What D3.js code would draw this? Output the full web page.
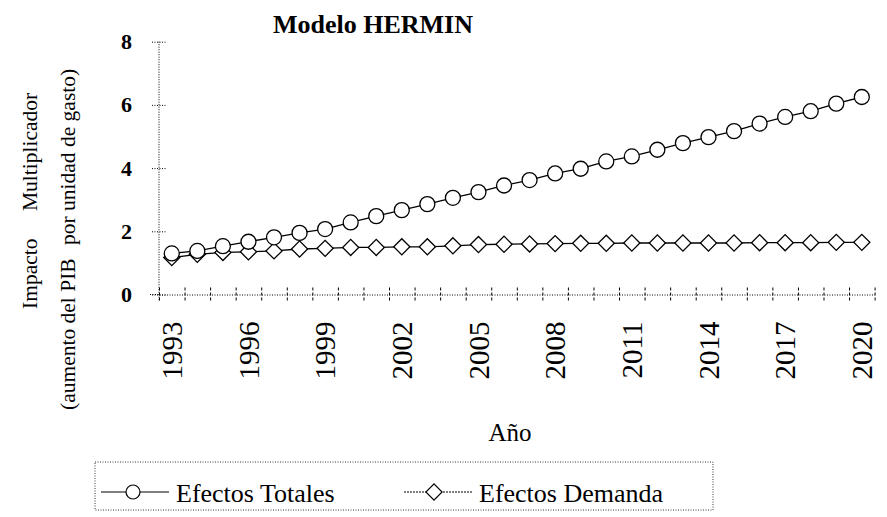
<!DOCTYPE html>
<html>
<head>
<meta charset="utf-8">
<script src="https://cdn.jsdelivr.net/npm/d3@7"></script>
<style>
  body { margin: 0; background: #fff; }
  text { font-family: "Liberation Serif", "Times New Roman", serif; fill: #000; }
</style>
</head>
<body>
<script>
// years on the x axis
var years = [1993, 1994, 1995, 1996, 1997, 1998, 1999, 2000, 2001, 2002,
             2003, 2004, 2005, 2006, 2007, 2008, 2009, 2010, 2011, 2012,
             2013, 2014, 2015, 2016, 2017, 2018, 2019, 2020];
// labelled years
var yearLabels = [1993, 1996, 1999, 2002, 2005, 2008, 2011, 2014, 2017, 2020];
// series
var efectosTotales = [1.30, 1.38, 1.53, 1.67, 1.81, 1.95, 2.07, 2.28, 2.48, 2.67,
                      2.86, 3.06, 3.24, 3.45, 3.62, 3.83, 3.98, 4.21, 4.37, 4.58,
                      4.79, 4.98, 5.17, 5.41, 5.62, 5.80, 6.04, 6.25];
var efectosDemanda = [1.17, 1.27, 1.33, 1.35, 1.38, 1.44, 1.46, 1.49, 1.49, 1.51,
                      1.51, 1.54, 1.58, 1.59, 1.60, 1.61, 1.62, 1.62, 1.63, 1.63,
                      1.63, 1.63, 1.63, 1.64, 1.64, 1.64, 1.65, 1.65];
var yTicks = [0, 2, 4, 6, 8];

var width = 887, height = 517;
var plotLeft = 159, plotRight = 874.6, plotTop = 41.7, plotBottom = 294.5;

var svg = d3.select("body").append("svg")
    .attr("width", width)
    .attr("height", height);

var x = d3.scaleBand().domain(years).range([plotLeft, plotRight]).padding(0);
var xEdge = d3.scaleLinear().domain([0, years.length]).range([plotLeft, plotRight]);
var y = d3.scaleLinear().domain([0, 8]).range([plotBottom, plotTop]);

// title
svg.append("text")
    .attr("x", 373).attr("y", 33)
    .attr("text-anchor", "middle")
    .attr("font-size", 26).attr("font-weight", "bold")
    .text("Modelo HERMIN");

// y axis
var yAxis = svg.append("g")
    .attr("transform", "translate(" + plotLeft + ",0)")
    .call(d3.axisLeft(y).tickValues(yTicks).tickSize(0).tickPadding(27));
yAxis.select(".domain").remove();
yAxis.selectAll("text")
    .attr("font-size", 22).attr("font-weight", "bold")
    .attr("font-family", "Liberation Serif");
yAxis.selectAll(".tick").append("line")
    .attr("x1", -7).attr("x2", 8)
    .attr("stroke", "#000").attr("stroke-dasharray", "1,1.5");
yAxis.append("line")
    .attr("x1", 0).attr("x2", 0)
    .attr("y1", plotTop).attr("y2", plotBottom + 7)
    .attr("stroke", "#000").attr("stroke-dasharray", "1,1.5");

// x axis line and the tick marks between the years
var xAxis = svg.append("g")
    .attr("transform", "translate(0," + plotBottom + ")")
    .call(d3.axisBottom(xEdge).tickValues(d3.range(0, years.length + 1)).tickFormat("").tickSize(0));
xAxis.select(".domain")
    .attr("stroke", "#000").attr("stroke-dasharray", "1,1.5");
xAxis.selectAll(".tick line")
    .attr("y1", -7).attr("y2", 8)
    .attr("stroke", "#000").attr("stroke-dasharray", "3,2");
svg.append("line")
    .attr("x1", plotLeft - 9).attr("x2", plotLeft)
    .attr("y1", plotBottom).attr("y2", plotBottom)
    .attr("stroke", "#000").attr("stroke-dasharray", "1,1.5");

// year labels
var xLab = svg.append("g")
    .attr("transform", "translate(0," + plotBottom + ")")
    .call(d3.axisBottom(x).tickValues(yearLabels).tickSize(0));
xLab.select(".domain").remove();
xLab.selectAll("text")
    .attr("font-size", 29).attr("font-family", "Liberation Serif")
    .attr("transform", "rotate(-90)")
    .attr("text-anchor", "end")
    .attr("x", -27).attr("y", 0).attr("dy", "0.35em");

// axis titles
svg.append("text")
    .attr("x", 510).attr("y", 441)
    .attr("text-anchor", "middle")
    .attr("font-size", 25)
    .text("Año");

var yTitle = [
  { t: "Impacto", x: 37, y: 309 },
  { t: "Multiplicador", x: 37, y: 211 },
  { t: "(aumento del PIB", x: 75, y: 410 },
  { t: "por unidad de gasto)", x: 75, y: 245 }
];
svg.selectAll(".ytitle").data(yTitle).enter().append("text")
    .attr("class", "ytitle")
    .attr("transform", function(d) { return "translate(" + d.x + "," + d.y + ") rotate(-90)"; })
    .attr("font-size", 21.5)
    .text(function(d) { return d.t; });

// lines
var cx = function(d, i) { return x(years[i]) + x.bandwidth() / 2; };
var line = d3.line().x(cx).y(function(d) { return y(d); });

svg.append("path").datum(efectosDemanda)
    .attr("d", line).attr("fill", "none").attr("stroke", "#000").attr("stroke-width", 1.3);
svg.append("path").datum(efectosTotales)
    .attr("d", line).attr("fill", "none").attr("stroke", "#000").attr("stroke-width", 1.3);

var diamond = d3.symbol().type(d3.symbolSquare).size(130);
svg.selectAll(".dem").data(efectosDemanda).enter().append("path")
    .attr("class", "dem")
    .attr("d", diamond)
    .attr("transform", function(d, i) { return "translate(" + cx(d, i) + "," + y(d) + ") rotate(45)"; })
    .attr("fill", "#fff").attr("stroke", "#000").attr("stroke-width", 1.3);

svg.selectAll(".tot").data(efectosTotales).enter().append("circle")
    .attr("class", "tot")
    .attr("cx", cx).attr("cy", function(d) { return y(d); })
    .attr("r", 7.5)
    .attr("fill", "#fff").attr("stroke", "#000").attr("stroke-width", 1.3);

// legend
var legend = svg.append("g");
legend.append("rect")
    .attr("x", 95).attr("y", 462).attr("width", 618).attr("height", 48)
    .attr("fill", "none").attr("stroke", "#000").attr("stroke-dasharray", "1,1.5").attr("stroke-width", 0.8);

var legendItems = [
  { name: "Efectos Totales", x0: 101, mark: "circle" },
  { name: "Efectos Demanda", x0: 404, mark: "diamond" }
];
legendItems.forEach(function(it) {
  var g = legend.append("g").attr("transform", "translate(" + it.x0 + ",492)");
  g.append("line").attr("x1", 0).attr("x2", 68).attr("y1", 0).attr("y2", 0)
      .attr("stroke", "#000").attr("stroke-width", 1).attr("stroke-dasharray", it.mark === "circle" ? null : "2,1");
  if (it.mark === "circle") {
    g.append("circle").attr("cx", 32).attr("cy", 0).attr("r", 7)
        .attr("fill", "#fff").attr("stroke", "#000").attr("stroke-width", 1.2);
  } else {
    g.append("path").attr("d", diamond).attr("transform", "translate(30,0) rotate(45)")
        .attr("fill", "#fff").attr("stroke", "#000").attr("stroke-width", 1.2);
  }
  g.append("text").attr("x", 75).attr("y", 10)
      .attr("font-size", 26)
      .text(it.name);
});
</script>
</body>
</html>
